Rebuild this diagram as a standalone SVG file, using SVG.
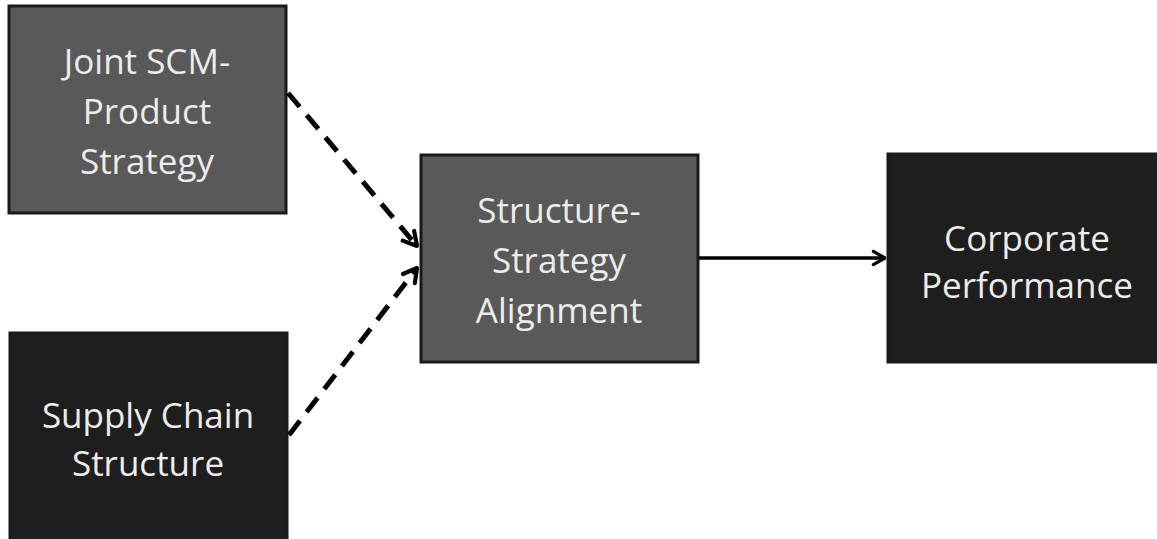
<svg xmlns="http://www.w3.org/2000/svg" width="1157" height="539" viewBox="0 0 1157 539">
<style>
.box{stroke:#1a1a1a;stroke-width:3}
.light{fill:#595959}
.dark{fill:#1e1e1e}
.t{font-family:"Open Sans","Liberation Sans",sans-serif;font-size:35px;fill:#ececec;text-anchor:middle}
.c{stroke:#000;stroke-width:5;fill:none}
</style>
<defs>
<marker id="ah" viewBox="0 0 12 12" refX="11" refY="6" markerWidth="4" markerHeight="4" orient="auto" markerUnits="strokeWidth">
<polyline points="3,1.5 11,6 3,10.5" fill="none" stroke="#000" stroke-width="2.5" stroke-linecap="round" stroke-linejoin="round"/>
</marker>
<marker id="ah2" viewBox="0 0 12 12" refX="11" refY="6" markerWidth="5" markerHeight="5" orient="auto" markerUnits="strokeWidth">
<polyline points="3,1.5 11,6 3,10.5" fill="none" stroke="#000" stroke-width="2.2" stroke-linecap="round" stroke-linejoin="round"/>
</marker>
</defs>
<rect width="1157" height="539" fill="#fff"/>
<g id="joint">
<rect class="box light" x="9" y="6" width="277" height="207"/>
<text class="t" x="147" y="74">Joint SCM-</text>
<text class="t" x="147" y="124">Product</text>
<text class="t" x="147" y="174">Strategy</text>
</g>
<g id="supply">
<rect class="box dark" x="10" y="333" width="277" height="215"/>
<text class="t" x="148" y="428">Supply Chain</text>
<text class="t" x="148" y="476">Structure</text>
</g>
<g id="alignment">
<rect class="box light" x="421" y="155" width="277" height="207"/>
<text class="t" x="559" y="223">Structure-</text>
<text class="t" x="559" y="273">Strategy</text>
<text class="t" x="559" y="323">Alignment</text>
</g>
<g id="performance">
<rect class="box dark" x="888" y="154" width="280" height="208"/>
<text class="t" x="1027" y="251">Corporate</text>
<text class="t" x="1027" y="298">Performance</text>
</g>
<g id="connectors">
<line class="c" x1="288" y1="93" x2="417" y2="246" stroke-dasharray="18,11" marker-end="url(#ah)"/>
<line class="c" x1="289" y1="435" x2="417" y2="268" stroke-dasharray="18,11" marker-end="url(#ah)"/>
<line class="c" x1="699" y1="258" x2="885" y2="258" style="stroke-width:3.5" marker-end="url(#ah2)"/>
</g>
</svg>
